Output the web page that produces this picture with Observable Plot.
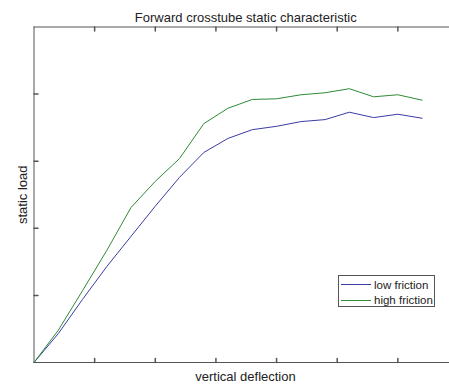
<!DOCTYPE html>
<html>
<head>
<meta charset="utf-8">
<script src="https://cdn.jsdelivr.net/npm/d3@7"></script>
<script src="https://cdn.jsdelivr.net/npm/@observablehq/plot@0.6"></script>
<style>
  html, body { margin: 0; padding: 0; background: #fff; }
  #chart { position: relative; width: 449px; height: 385px; overflow: hidden;
           font-family: "Liberation Sans", Arial, sans-serif; }
  #chart svg { display: block; }
  .legend { position: absolute; left: 338px; top: 275px; width: 97px; height: 32px;
            box-sizing: border-box; border: 1px solid #555; background: #fff;
            font-size: 11.5px; color: #222; padding-top: 1px; }
  .legend .row { display: flex; align-items: center; height: 15.5px; }
  .legend .swatch { width: 30px; height: 0; border-top: 1px solid; margin: 0 3px 0 2px; }
</style>
</head>
<body>
<div id="chart"></div>
<script>
// Deflection steps at which the load was sampled
const deflection = [0, 0.4, 0.8, 1.2, 1.6, 2.0, 2.4, 2.8, 3.2, 3.6, 4.0, 4.4, 4.8, 5.2, 5.6, 6.0, 6.4];

// Static load for the two friction settings
const lowFriction  = [0, 0.43, 0.94, 1.43, 1.88, 2.33, 2.76, 3.13, 3.34, 3.47, 3.52, 3.59, 3.62, 3.73, 3.65, 3.70, 3.64];
const highFriction = [0, 0.48, 1.07, 1.67, 2.31, 2.70, 3.04, 3.56, 3.79, 3.92, 3.93, 3.99, 4.02, 4.08, 3.96, 3.99, 3.91];

const seriesNames = ["low friction", "high friction"];
const seriesColors = ["#3b3ba6", "#2f8a36"];

// Unlabelled tick positions
const xTicks = [1, 2, 3, 4, 5, 6];
const yTicks = [1, 2, 3, 4];

const titleText = "Forward crosstube static characteristic";
const xLabel = "vertical deflection";
const yLabel = "static load";

const rows = [
  ...deflection.map((x, i) => ({x, load: lowFriction[i], series: seriesNames[0]})),
  ...deflection.map((x, i) => ({x, load: highFriction[i], series: seriesNames[1]}))
];

const axisColor = "#555";
const tickLen = 4;
// a plain straight tick drawn by the vector mark
const tickShape = { draw(context, l) { context.moveTo(0, 0); context.lineTo(0, -l); } };

const chart = Plot.plot({
  width: 449,
  height: 385,
  marginLeft: 33.5,
  marginRight: 0,
  marginTop: 26.5,
  marginBottom: 23,
  style: { fontFamily: "'Liberation Sans', Arial, sans-serif", background: "#fff", color: "#222" },
  x: { domain: [0, 7], range: [33.5, 458], axis: null },
  y: { domain: [0, 5], axis: null },
  color: { domain: seriesNames, range: seriesColors },
  marks: [
    Plot.ruleY([0, 5], { stroke: axisColor, strokeWidth: 1 }),
    Plot.ruleX([0], { stroke: axisColor, strokeWidth: 1 }),
    Plot.vector(xTicks, { x: d => d, y: 0, length: tickLen, rotate: 0, anchor: "start", shape: tickShape, stroke: axisColor }),
    Plot.vector(xTicks, { x: d => d, y: 5, length: tickLen, rotate: 180, anchor: "start", shape: tickShape, stroke: axisColor }),
    Plot.vector(yTicks, { x: 0, y: d => d, length: tickLen, rotate: 90, anchor: "start", shape: tickShape, stroke: axisColor }),
    Plot.line(rows, { x: "x", y: "load", z: "series", stroke: "series", strokeWidth: 1 }),
    Plot.text([titleText], { text: d => d, frameAnchor: "top", lineAnchor: "middle", textAnchor: "middle", dx: 4, dy: -8.7, fontSize: 13, fill: "#222" }),
    Plot.text([xLabel], { text: d => d, frameAnchor: "bottom", lineAnchor: "middle", textAnchor: "middle", dx: 3.75, dy: 14.3, fontSize: 13, fill: "#222" }),
    Plot.text([yLabel], { text: d => d, frameAnchor: "left", lineAnchor: "middle", textAnchor: "middle", dx: -11.2, rotate: -90, fontSize: 13, fill: "#222" })
  ]
});

const host = document.getElementById("chart");
host.appendChild(chart);

// Legend box inside the axes
const legend = document.createElement("div");
legend.className = "legend";
seriesNames.forEach((name, i) => {
  const row = document.createElement("div");
  row.className = "row";
  const sw = document.createElement("span");
  sw.className = "swatch";
  sw.style.borderTopColor = seriesColors[i];
  const label = document.createElement("span");
  label.textContent = name;
  row.appendChild(sw);
  row.appendChild(label);
  legend.appendChild(row);
});
host.appendChild(legend);
</script>
</body>
</html>
